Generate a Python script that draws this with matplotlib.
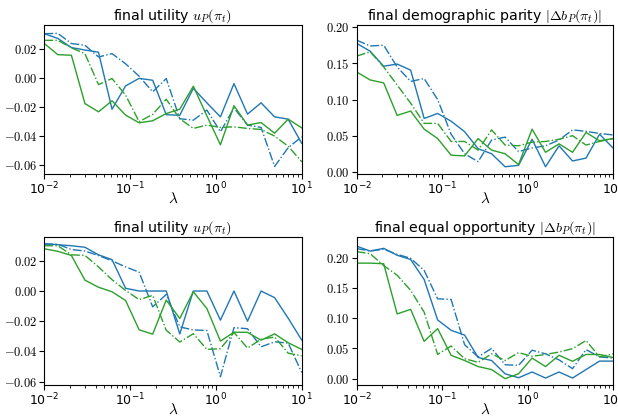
import matplotlib
matplotlib.use("Agg")
import matplotlib.pyplot as plt

plt.rcParams['mathtext.fontset'] = 'cm'
plt.rcParams['axes.formatter.use_mathtext'] = True
plt.rcParams['font.family'] = ['DejaVu Sans']

lam = [0.01, 0.01438, 0.02069, 0.02976, 0.04281, 0.06158, 0.08859, 0.1274, 0.1833, 0.2637,
       0.3793, 0.5456, 0.7848, 1.129, 1.624, 2.336, 3.360, 4.833, 6.952, 10.0]

# top-left: final utility
u1_bs = [0.0308, 0.0275, 0.0212, 0.0195, 0.0180, -0.0214, -0.0053, -0.0001, -0.0014, -0.0252,
         -0.0256, -0.0070, -0.0170, -0.0267, -0.0037, -0.0248, -0.0170, -0.0267, -0.0283, -0.0450]
u1_bd = [0.0308, 0.0310, 0.0240, 0.0228, 0.0147, 0.0170, 0.0100, 0.0014, -0.0094, -0.0002,
         -0.0280, -0.0290, -0.0220, -0.0370, -0.0205, -0.0324, -0.0340, -0.0610, -0.0480, -0.0405]
u1_gs = [0.0240, 0.0163, 0.0159, -0.0175, -0.0232, -0.0156, -0.0255, -0.0308, -0.0294, -0.0244,
         -0.0214, -0.0055, -0.0260, -0.0460, -0.0190, -0.0324, -0.0306, -0.0380, -0.0283, -0.0343]
u1_gd = [0.0262, 0.0262, 0.0210, 0.0170, -0.0044, -0.0002, -0.0117, -0.0300, -0.0250, -0.0145,
         -0.0280, -0.0347, -0.0324, -0.0340, -0.0336, -0.0347, -0.0354, -0.0400, -0.0470, -0.0577]

# top-right: demographic parity
dp_bs = [0.1775, 0.1668, 0.146, 0.149, 0.1406, 0.0738, 0.0807, 0.070, 0.0555, 0.032,
         0.025, 0.007, 0.009, 0.045, 0.007, 0.036, 0.015, 0.019, 0.052, 0.033]
dp_bd = [0.182, 0.174, 0.175, 0.145, 0.125, 0.129, 0.100, 0.052, 0.025, 0.014,
         0.044, 0.048, 0.028, 0.033, 0.036, 0.044, 0.058, 0.056, 0.053, 0.051]
dp_gs = [0.138, 0.127, 0.123, 0.078, 0.084, 0.059, 0.046, 0.023, 0.022, 0.046,
         0.030, 0.025, 0.010, 0.059, 0.027, 0.0387, 0.027, 0.0544, 0.043, 0.046]
dp_gd = [0.160, 0.166, 0.145, 0.120, 0.095, 0.067, 0.067, 0.042, 0.042, 0.030,
         0.058, 0.037, 0.036, 0.041, 0.042, 0.045, 0.050, 0.037, 0.042, 0.046]

# bottom-left: final utility
u2_bs = [0.0314, 0.0307, 0.0300, 0.0290, 0.0240, 0.0208, 0.0018, 0.0, 0.0, 0.0,
         -0.0285, 0.0, 0.0, -0.0193, 0.0, -0.0200, 0.0, -0.0044, -0.0180, -0.0325]
u2_bd = [0.0310, 0.0310, 0.0275, 0.0265, 0.0235, 0.0200, 0.0160, 0.0125, -0.0105, -0.0023,
         -0.0238, -0.0258, -0.0262, -0.0568, -0.0243, -0.0250, -0.0370, -0.0337, -0.0345, -0.0540]
u2_gs = [0.0280, 0.0263, 0.0236, 0.0072, 0.0025, -0.0005, -0.0063, -0.0257, -0.0286, -0.0060,
         -0.0182, -0.0005, -0.0116, -0.0332, -0.0273, -0.0274, -0.0326, -0.0284, -0.0343, -0.0387]
u2_gd = [0.0300, 0.0300, 0.0240, 0.0236, 0.0160, 0.0075, 0.0004, -0.0057, -0.0029, -0.0260,
         -0.0338, -0.0283, -0.0387, -0.0382, -0.0275, -0.0378, -0.0320, -0.0305, -0.0412, -0.0430]

# bottom-right: equal opportunity
eo_bs = [0.219, 0.211, 0.2155, 0.204, 0.197, 0.164, 0.097, 0.080, 0.072, 0.035,
         0.030, 0.008, 0.0015, 0.011, 0.001, 0.011, 0.001, 0.015, 0.029, 0.029]
eo_bd = [0.215, 0.211, 0.214, 0.2055, 0.199, 0.179, 0.132, 0.131, 0.056, 0.036,
         0.050, 0.023, 0.022, 0.047, 0.041, 0.031, 0.0165, 0.048, 0.036, 0.034]
eo_gs = [0.191, 0.191, 0.190, 0.107, 0.1146, 0.0617, 0.0827, 0.0386, 0.030, 0.020,
         0.015, 0.000, 0.008, 0.034, 0.020, 0.0386, 0.0287, 0.040, 0.040, 0.035]
eo_gd = [0.210, 0.2066, 0.187, 0.171, 0.146, 0.110, 0.040, 0.054, 0.033, 0.027,
         0.041, 0.030, 0.043, 0.037, 0.040, 0.044, 0.0496, 0.063, 0.036, 0.041]

titles = [r"final utility $u_P(\pi_t)$",
          r"final demographic parity $|\Delta b_P(\pi_t)|$",
          r"final utility $u_P(\pi_t)$",
          r"final equal opportunity $|\Delta b_P(\pi_t)|$"]
series = [(u1_bs, u1_bd, u1_gs, u1_gd), (dp_bs, dp_bd, dp_gs, dp_gd),
          (u2_bs, u2_bd, u2_gs, u2_gd), (eo_bs, eo_bd, eo_gs, eo_gd)]
ylims = [(-0.0662, 0.0368), (-0.003, 0.203), (-0.0623, 0.036), (-0.0105, 0.2347)]
yticks = [[-0.06, -0.04, -0.02, 0.0, 0.02], [0.0, 0.05, 0.10, 0.15, 0.20],
          [-0.06, -0.04, -0.02, 0.0, 0.02], [0.0, 0.05, 0.10, 0.15, 0.20]]

W, H = 618, 416
rects = [(44.3, 25, 301.7, 174), (356.7, 25, 613, 174),
         (44.3, 236.7, 301.7, 385), (356.7, 236.7, 613, 385)]

blue = '#1f77b4'
green = '#2ca02c'

fig = plt.figure(figsize=(6.18, 4.16), dpi=100)
for i in range(4):
    x0, y0, x1, y1 = rects[i]
    ax = fig.add_axes([x0 / W, 1 - y1 / H, (x1 - x0) / W, (y1 - y0) / H])
    bs, bd, gs, gd = series[i]
    ax.plot(lam, bs, color=blue, lw=1.0, ls='-')
    ax.plot(lam, bd, color=blue, lw=1.0, ls='-.')
    ax.plot(lam, gs, color=green, lw=1.0, ls='-')
    ax.plot(lam, gd, color=green, lw=1.0, ls='-.')
    ax.set_xscale('log')
    ax.set_xlim(1e-2, 1e1)
    ax.set_ylim(*ylims[i])
    ax.set_yticks(yticks[i])
    ax.set_yticklabels([f"${v:.2f}$" for v in yticks[i]])
    ax.set_title(titles[i], fontsize=10.2, pad=3)
    ax.set_xlabel(r"$\lambda$", fontsize=11, labelpad=-5)
    ax.tick_params(labelsize=9, pad=1.5)

fig.savefig("out.png", dpi=100)
